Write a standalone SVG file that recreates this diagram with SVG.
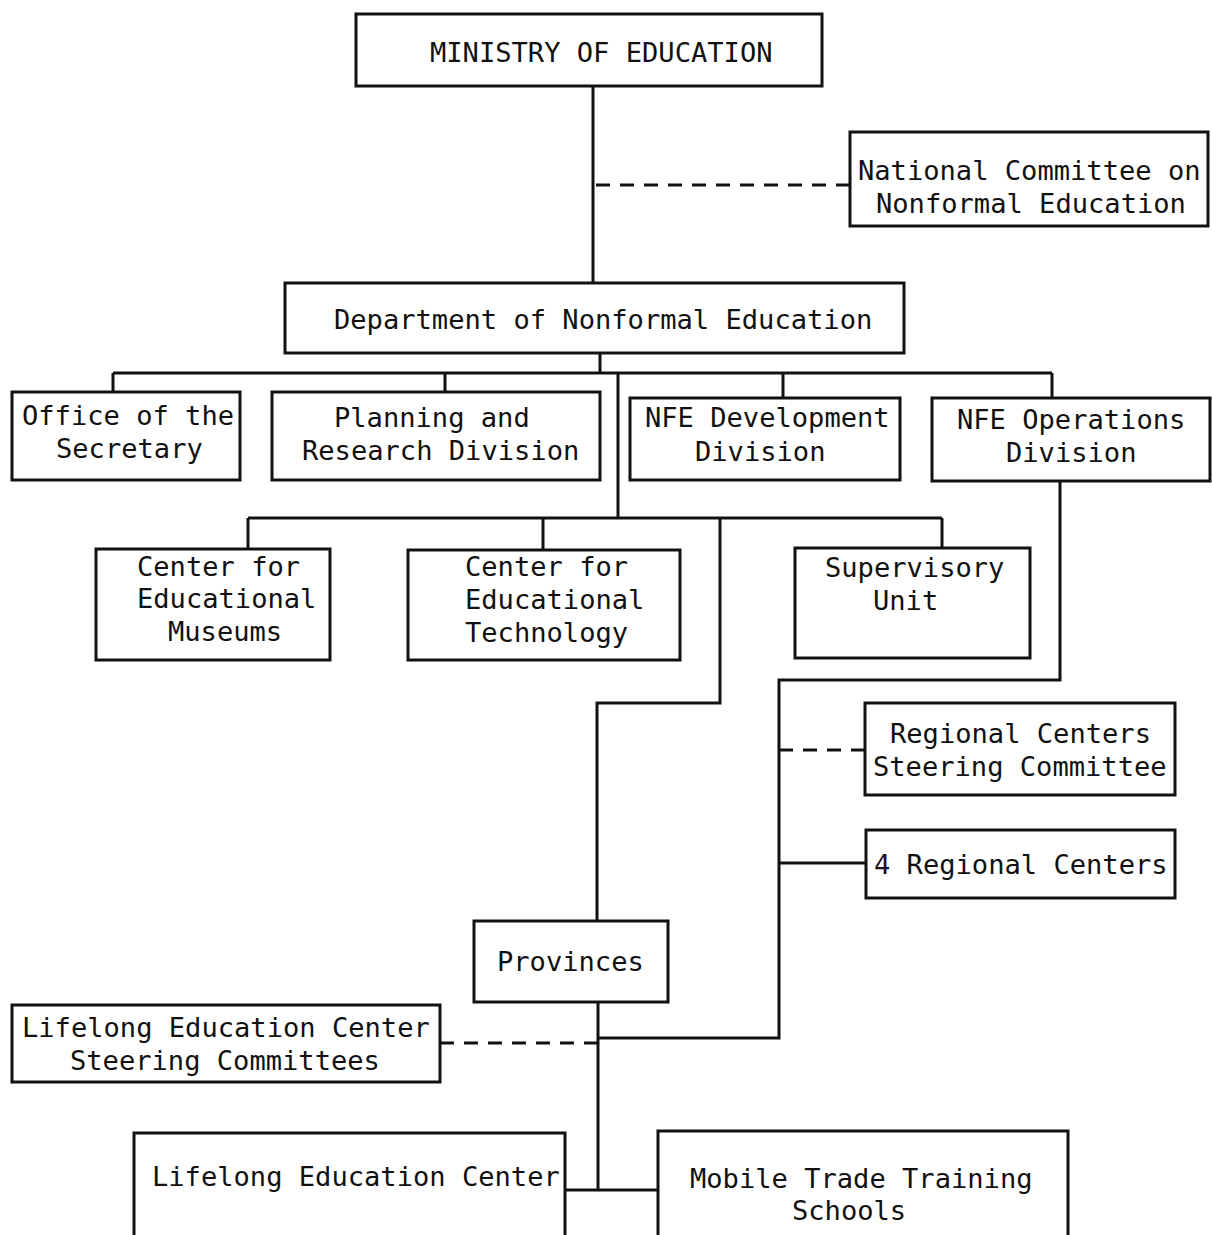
<svg xmlns="http://www.w3.org/2000/svg" width="1212" height="1235" viewBox="0 0 1212 1235">
<style>
.box{fill:#fff;stroke:#111;stroke-width:3}
.ln{fill:none;stroke:#111;stroke-width:3}
.dash{fill:none;stroke:#111;stroke-width:3;stroke-dasharray:14 10}
text{font-family:"DejaVu Sans Mono","Liberation Mono",monospace;font-size:27.1px;fill:#111}
</style>
<rect width="1212" height="1235" fill="#fff"/>
<g id="connectors">
<path class="ln" d="M593 86V283"/>
<path class="dash" d="M596 185H850"/>
<path class="ln" d="M600 353V373M113 373H1052M113 373V392M445 373V392M783 373V398M1052 373V398M618 373V518"/>
<path class="ln" d="M248 518H942M248 518V549M543 518V550M942 518V548M720 518V703H597V921"/>
<path class="ln" d="M1060 481V680H779V1038H597"/>
<path class="dash" d="M779 750H865"/>
<path class="ln" d="M779 863H866"/>
<path class="dash" d="M440 1043H597"/>
<path class="ln" d="M598 1002V1190M565 1190H658"/>
</g>
<g id="ministry"><rect class="box" x="356" y="14" width="466" height="72"/><text x="430" y="62">MINISTRY OF EDUCATION</text></g>
<g id="national-committee"><rect class="box" x="850" y="132" width="358" height="94"/><text x="858" y="180">National Committee on</text><text x="876" y="213">Nonformal Education</text></g>
<g id="department"><rect class="box" x="285" y="283" width="619" height="70"/><text x="334" y="329">Department of Nonformal Education</text></g>
<g id="office-secretary"><rect class="box" x="12" y="392" width="228" height="88"/><text x="22" y="425">Office of the</text><text x="56" y="458">Secretary</text></g>
<g id="planning"><rect class="box" x="272" y="392" width="328" height="88"/><text x="334" y="427">Planning and</text><text x="302" y="460">Research Division</text></g>
<g id="nfe-development"><rect class="box" x="630" y="398" width="270" height="82"/><text x="645" y="427">NFE Development</text><text x="695" y="461">Division</text></g>
<g id="nfe-operations"><rect class="box" x="932" y="398" width="278" height="83"/><text x="957" y="429">NFE Operations</text><text x="1006" y="462">Division</text></g>
<g id="museums"><rect class="box" x="96" y="549" width="234" height="111"/><text x="137" y="576">Center for</text><text x="137" y="608">Educational</text><text x="168" y="641">Museums</text></g>
<g id="technology"><rect class="box" x="408" y="550" width="272" height="110"/><text x="465" y="576">Center for</text><text x="465" y="609">Educational</text><text x="465" y="642">Technology</text></g>
<g id="supervisory"><rect class="box" x="795" y="548" width="235" height="110"/><text x="825" y="577">Supervisory</text><text x="873" y="610">Unit</text></g>
<g id="regional-steering"><rect class="box" x="865" y="703" width="310" height="92"/><text x="890" y="743">Regional Centers</text><text x="873" y="776">Steering Committee</text></g>
<g id="regional-centers"><rect class="box" x="866" y="830" width="309" height="68"/><text x="874" y="874">4 Regional Centers</text></g>
<g id="provinces"><rect class="box" x="474" y="921" width="194" height="81"/><text x="497" y="971">Provinces</text></g>
<g id="lifelong-steering"><rect class="box" x="12" y="1005" width="428" height="77"/><text x="22" y="1037">Lifelong Education Center</text><text x="70" y="1070">Steering Committees</text></g>
<g id="lifelong-center"><rect class="box" x="134" y="1133" width="431" height="110"/><text x="152" y="1186">Lifelong Education Center</text></g>
<g id="mobile"><rect class="box" x="658" y="1131" width="410" height="112"/><text x="690" y="1188">Mobile Trade Training</text><text x="792" y="1220">Schools</text></g>
</svg>
